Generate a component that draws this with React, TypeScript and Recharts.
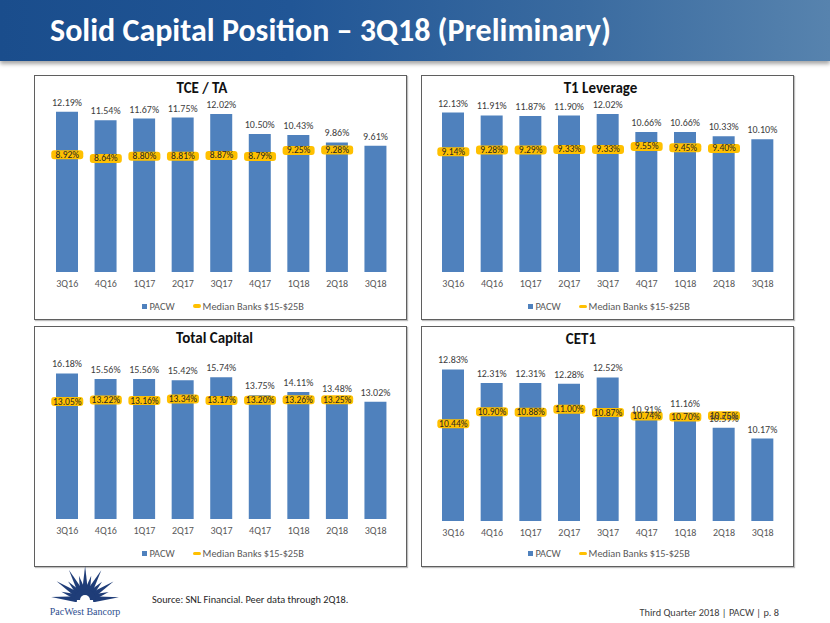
import React from 'react';
import { ComposedChart, Bar, Line, XAxis, YAxis, LabelList } from 'recharts';

// quarter labels shared by all four panels
const quarters = ['3Q16', '4Q16', '1Q17', '2Q17', '3Q17', '4Q17', '1Q18', '2Q18', '3Q18'];

// PACW vs peer median (Median Banks $15-$25B), in %
const tceTaPacw = [12.19, 11.54, 11.67, 11.75, 12.02, 10.5, 10.43, 9.86, 9.61];
const tceTaMedian = [8.92, 8.64, 8.8, 8.81, 8.87, 8.79, 9.25, 9.28, null];

const t1Pacw = [12.13, 11.91, 11.87, 11.9, 12.02, 10.66, 10.66, 10.33, 10.1];
const t1Median = [9.14, 9.28, 9.29, 9.33, 9.33, 9.55, 9.45, 9.4, null];

const totalCapPacw = [16.18, 15.56, 15.56, 15.42, 15.74, 13.75, 14.11, 13.48, 13.02];
const totalCapMedian = [13.05, 13.22, 13.16, 13.34, 13.17, 13.2, 13.26, 13.25, null];

const cet1Pacw = [12.83, 12.31, 12.31, 12.28, 12.52, 10.91, 11.16, 10.59, 10.17];
const cet1Median = [10.44, 10.9, 10.88, 11.0, 10.87, 10.74, 10.7, 10.75, null];

const BLUE = '#4F81BD';
const YELLOW = '#FFC000';
const FONT = 'Carlito, Calibri, Lato, "Open Sans", sans-serif';

const pct = (v: any) => (v == null ? '' : `${Number(v).toFixed(2)}%`);

const buildRows = (pacw: number[], median: (number | null)[]) =>
  quarters.map((q, i) => ({ q, pacw: pacw[i], median: median[i] }));

// yellow marker with the median value written on it
const renderMedian = (p: any) => {
  const { cx, cy, value, index } = p;
  if (value == null || cy == null || isNaN(cy)) return <g key={`m-${index}`} />;
  return (
    <g key={`m-${index}`}>
      <rect x={cx - 16} y={cy - 4.5} width={32} height={9} rx={3} fill={YELLOW} />
      <text
        x={cx}
        y={cy}
        textAnchor="middle"
        dominantBaseline="central"
        fontSize={9.5}
        fill="#262626"
        fontFamily={FONT}
      >
        {pct(value)}
      </text>
    </g>
  );
};

type PanelProps = {
  left: number;
  top: number;
  height: number;
  title: string;
  titleX: number;
  titleY: number;
  pacw: number[];
  median: (number | null)[];
  domain: [number, number];
  medianDomain?: [number, number];
  margin: { top: number; right: number; bottom: number; left: number };
  legendX: number;
  legendY: number;
};

const Panel = (props: PanelProps) => {
  const { left, top, height, title, titleX, titleY, pacw, median, domain, medianDomain, margin, legendX, legendY } = props;
  const data = buildRows(pacw, median);
  const width = 373;
  return (
    <>
      <div style={{ position: 'absolute', left, top }}>
        <ComposedChart width={width} height={height} data={data} margin={margin}>
          <XAxis
            dataKey="q"
            axisLine={false}
            tickLine={false}
            interval={0}
            height={30}
            tick={{ fill: '#595959', fontSize: 10, fontFamily: FONT }}
          />
          <YAxis yAxisId="b" hide domain={domain} allowDataOverflow />
          <YAxis yAxisId="m" hide domain={medianDomain ?? domain} allowDataOverflow />
          <Bar yAxisId="b" dataKey="pacw" fill={BLUE} barSize={22} isAnimationActive={false}>
            <LabelList
              dataKey="pacw"
              position="top"
              offset={6}
              formatter={pct}
              fill="#404040"
              fontSize={10}
              fontFamily={FONT}
            />
          </Bar>
          <Line
            yAxisId="m"
            dataKey="median"
            stroke="none"
            dot={renderMedian}
            activeDot={false}
            isAnimationActive={false}
          />
        </ComposedChart>
      </div>
      <div
        style={{
          position: 'absolute',
          left: titleX,
          top: titleY,
          transform: 'translate(-50%, -50%)',
          fontFamily: FONT,
          fontWeight: 700,
          fontSize: 15,
          color: '#111',
          whiteSpace: 'nowrap',
        }}
      >
        {title}
      </div>
      <div
        style={{
          position: 'absolute',
          left: legendX,
          top: legendY - 7,
          height: 14,
          display: 'flex',
          alignItems: 'center',
          fontFamily: FONT,
          fontSize: 10.3,
          color: '#595959',
          whiteSpace: 'nowrap',
        }}
      >
        <span style={{ width: 5, height: 5, background: BLUE, marginRight: 3 }} />
        <span>PACW</span>
        <span style={{ width: 8, height: 3.5, borderRadius: 2, background: YELLOW, marginLeft: 18, marginRight: 2 }} />
        <span>Median Banks $15-$25B</span>
      </div>
      <div
        style={{
          position: 'absolute',
          left,
          top,
          width,
          height,
          boxSizing: 'border-box',
          border: '1.5px solid #5f5f5f',
          boxShadow: '1px 1px 1px rgba(0,0,0,0.25)',
          pointerEvents: 'none',
        }}
      />
    </>
  );
};

const Logo = () => {
  const cx = 40;
  const cy = 40;
  const rays = [];
  for (let i = 0; i <= 12; i++) {
    const a = Math.PI + ((5 + i * 14.2) * Math.PI) / 180;
    const len = i % 2 === 0 ? 34 : 25;
    const r0 = 8;
    const w = 3;
    const ux = Math.cos(a);
    const uy = Math.sin(a);
    const bx = cx + ux * r0;
    const by = cy + uy * r0;
    const pts = [
      [bx - uy * w, by + ux * w],
      [bx + uy * w, by - ux * w],
      [cx + ux * len, cy + uy * len],
    ];
    rays.push(<polygon key={i} points={pts.map((p) => p.join(',')).join(' ')} fill="#1f3d78" />);
  }
  return (
    <svg width={82} height={42} style={{ position: 'absolute', left: 45, top: 560 }}>
      {rays}
      <path d={`M ${cx - 11} ${cy} A 11 11 0 0 1 ${cx + 11} ${cy} Z`} fill="#1f3d78" />
      <path d={`M ${cx - 5} ${cy} A 5 5 0 0 1 ${cx + 5} ${cy} Z`} fill="#fff" />
    </svg>
  );
};

export default function App() {
  return (
    <div
      style={{
        position: 'absolute',
        left: 0,
        top: 0,
        width: 830,
        height: 623,
        background: '#fff',
        overflow: 'hidden',
        fontFamily: FONT,
      }}
    >
      <div
        style={{
          position: 'absolute',
          left: 0,
          top: 0,
          width: 830,
          height: 61,
          background: 'linear-gradient(90deg, #1a4d8c 0%, #215696 35%, #3a6ba0 70%, #5783ae 100%)',
          boxShadow: '0 3px 4px rgba(0,0,0,0.35)',
        }}
      />
      <div
        style={{
          position: 'absolute',
          left: 50,
          top: 15,
          fontFamily: FONT,
          fontWeight: 700,
          fontSize: 32,
          lineHeight: '32px',
          color: '#fff',
          whiteSpace: 'nowrap',
        }}
      >
        Solid Capital Position – 3Q18 (Preliminary)
      </div>

      <Panel
        left={34}
        top={75}
        height={245}
        title="TCE / TA"
        titleX={202}
        titleY={88}
        pacw={tceTaPacw}
        median={tceTaMedian}
        domain={[0, 14]}
        margin={{ top: 13, right: 12, bottom: 18, left: 14 }}
        legendX={141.5}
        legendY={306}
      />
      <Panel
        left={421}
        top={75}
        height={245}
        title="T1 Leverage"
        titleX={600.5}
        titleY={88}
        pacw={t1Pacw}
        median={t1Median}
        domain={[0, 14]}
        margin={{ top: 13, right: 12, bottom: 18, left: 13 }}
        legendX={527.5}
        legendY={306.5}
      />
      <Panel
        left={34}
        top={326}
        height={241}
        title="Total Capital"
        titleX={214.5}
        titleY={337.5}
        pacw={totalCapPacw}
        median={totalCapMedian}
        domain={[0, 18]}
        margin={{ top: 31, right: 12, bottom: 18, left: 14 }}
        legendX={141.5}
        legendY={553.5}
      />
      <Panel
        left={421}
        top={326}
        height={241}
        title="CET1"
        titleX={581}
        titleY={338.5}
        pacw={cet1Pacw}
        median={cet1Median}
        domain={[7, 13]}
        medianDomain={[6.7, 12.7]}
        margin={{ top: 39, right: 12, bottom: 16, left: 13 }}
        legendX={527.5}
        legendY={553.5}
      />

      <Logo />
      <div
        style={{
          position: 'absolute',
          left: 85,
          top: 611,
          transform: 'translate(-50%, -50%)',
          fontFamily: '"Liberation Serif", serif',
          fontSize: 10,
          color: '#2f4f8f',
          whiteSpace: 'nowrap',
        }}
      >
        PacWest Bancorp
      </div>
      <div
        style={{
          position: 'absolute',
          left: 152,
          top: 599,
          transform: 'translateY(-50%)',
          fontSize: 10.3,
          color: '#262626',
          whiteSpace: 'nowrap',
        }}
      >
        Source: SNL Financial. Peer data through 2Q18.
      </div>
      <div
        style={{
          position: 'absolute',
          right: 830 - 779,
          top: 612,
          transform: 'translateY(-50%)',
          fontSize: 10.3,
          color: '#404040',
          whiteSpace: 'nowrap',
        }}
      >
        Third Quarter 2018 | PACW | p. 8
      </div>
    </div>
  );
}
